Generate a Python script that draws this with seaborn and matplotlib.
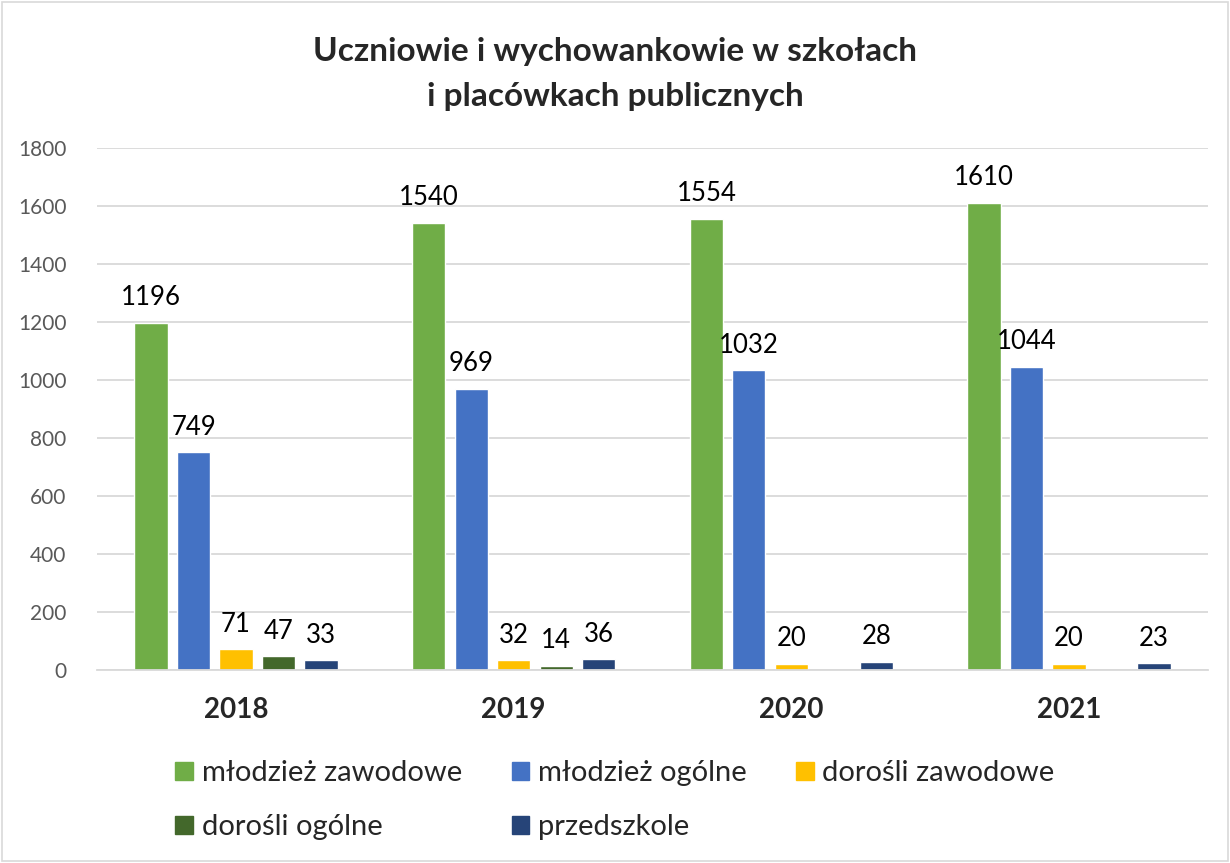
import numpy as np
import pandas as pd
import matplotlib
matplotlib.use('Agg')
import matplotlib.pyplot as plt
import seaborn as sns
from matplotlib.patches import Rectangle

# dane
YEARS = ['2018', '2019', '2020', '2021']
SERIES = ['młodzież zawodowe', 'młodzież ogólne', 'dorośli zawodowe',
          'dorośli ogólne', 'przedszkole']
mlodziez_zawodowe = [1196, 1540, 1554, 1610]
mlodziez_ogolne   = [749, 969, 1032, 1044]
dorosli_zawodowe  = [71, 32, 20, 20]
dorosli_ogolne    = [47, 14, np.nan, np.nan]
przedszkole       = [33, 36, 28, 23]
COLORS = ['#70AD47', '#4472C4', '#FFC000', '#43682B', '#264478']

values = [mlodziez_zawodowe, mlodziez_ogolne, dorosli_zawodowe,
          dorosli_ogolne, przedszkole]
df = pd.DataFrame([
    {'rok': y, 'seria': s, 'wartosc': v[i]}
    for s, v in zip(SERIES, values)
    for i, y in enumerate(YEARS)
])

sns.set_theme(style='white')
plt.rcParams['font.family'] = ['Lato', 'DejaVu Sans']

fig = plt.figure(figsize=(12.3, 8.63), dpi=100)
ax = fig.add_axes([0.079, 0.224, 0.903, 0.605])

sns.barplot(data=df, x='rok', y='wartosc', hue='seria', hue_order=SERIES,
            palette=COLORS, width=0.765, gap=0.22, saturation=1,
            legend=False, ax=ax)

for cont in ax.containers:
    labels = ['' if np.isnan(b.get_height()) else f'{b.get_height():.0f}'
              for b in cont]
    ax.bar_label(cont, labels=labels, padding=9, fontsize=18.5, color='#000000')

ax.set_ylim(0, 1800)
ax.set_yticks(range(0, 1801, 200))
ax.yaxis.grid(True, color='#D9D9D9', linewidth=1.3)
ax.set_axisbelow(True)
for side in ['top', 'right', 'left']:
    ax.spines[side].set_visible(False)
ax.spines['bottom'].set_color('#D9D9D9')
ax.spines['bottom'].set_linewidth(1.3)
ax.tick_params(axis='y', labelsize=15, labelcolor='#595959', length=0, pad=22)
ax.tick_params(axis='x', labelsize=20, length=0, pad=20)
for t in ax.get_xticklabels():
    t.set_fontweight('bold')
ax.set_xlabel('')
ax.set_ylabel('')
ax.set_xlim(-0.5, 3.5)

fig.suptitle('Uczniowie i wychowankowie w szkołach\ni placówkach publicznych',
             fontsize=24, fontweight='bold', y=0.957, linespacing=1.65)

# legenda wierszami: 3 + 2
order = [0, 3, 1, 4, 2]
handles = [Rectangle((0, 0), 1, 1, color=COLORS[i]) for i in order]
fig.legend(handles, [SERIES[i] for i in order], loc='lower center',
           bbox_to_anchor=(0.5, -0.004), ncol=3, frameon=False, fontsize=21,
           handlelength=0.6, handleheight=0.6, handletextpad=0.3,
           columnspacing=1.7, labelspacing=0.95)

fig.patches.append(Rectangle((0.002, 0.002), 0.996, 0.996, transform=fig.transFigure,
                             fill=False, edgecolor='#D9D9D9', linewidth=1.2))

plt.savefig('out.png', dpi=100)
